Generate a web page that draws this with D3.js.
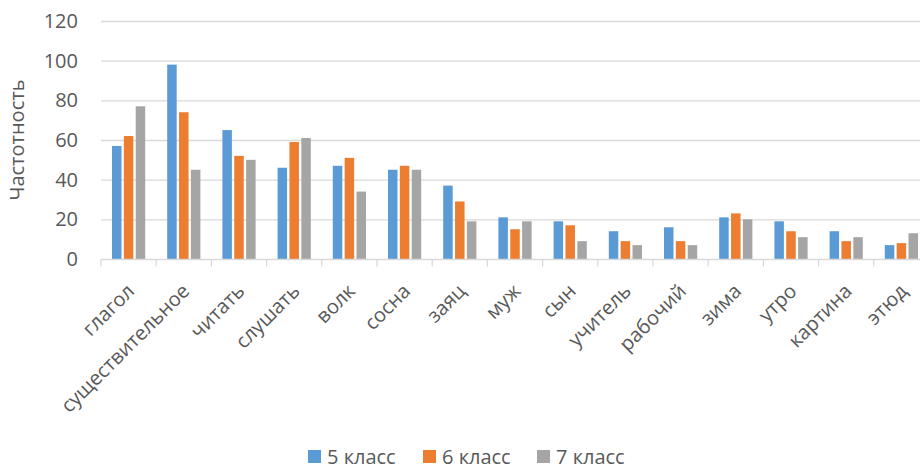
<!DOCTYPE html>
<html>
<head>
    <meta charset="utf-8" />
    <title>Частотность</title>
    <script src="https://cdn.jsdelivr.net/npm/d3@7"></script>
    <style>
        body { margin: 0; background: #fff; }
        text { font-family: "Open Sans", sans-serif; fill: #595959; }
    </style>
</head>
<body>
    <script>
        var categories = ["глагол", "существительное", "читать", "слушать", "волк", "сосна", "заяц",
            "муж", "сын", "учитель", "рабочий", "зима", "утро", "картина", "этюд"];
        var seriesNames = ["5 класс", "6 класс", "7 класс"];
        var class5 = [57, 98, 65, 46, 47, 45, 37, 21, 19, 14, 16, 21, 19, 14, 7];
        var class6 = [62, 74, 52, 59, 51, 47, 29, 15, 17, 9, 9, 23, 14, 9, 8];
        var class7 = [77, 45, 50, 61, 34, 45, 19, 19, 9, 7, 7, 20, 11, 11, 13];
        var yTicks = [0, 20, 40, 60, 80, 100, 120];

        var seriesValues = [class5, class6, class7];
        var colors = ["#5B9BD5", "#ED7D31", "#A5A5A5"];

        var width = 920, height = 469;
        var plotLeft = 101, plotRight = 929, plotTop = 21, plotBottom = 259;
        var fontSize = "20px";

        var svg = d3.select("body").append("svg")
            .attr("width", width)
            .attr("height", height);

        var x = d3.scaleBand().domain(categories).range([plotLeft, plotRight]);
        var xInner = d3.scaleBand().domain(d3.range(3))
            .range([11, x.bandwidth() - 11]).paddingInner(0.2);
        var y = d3.scaleLinear().domain([0, 120]).range([plotBottom, plotTop]);

        // gridlines
        svg.append("g").selectAll("line")
            .data(yTicks.filter(function (d) { return d > 0; }))
            .enter().append("line")
            .attr("x1", plotLeft).attr("x2", width)
            .attr("y1", function (d) { return y(d) + 0.5; })
            .attr("y2", function (d) { return y(d) + 0.5; })
            .attr("stroke", "#D9D9D9").attr("stroke-width", 1.3);

        // bars
        var groups = svg.append("g").selectAll("g")
            .data(categories).enter().append("g")
            .attr("transform", function (d) { return "translate(" + x(d) + ",0)"; });

        groups.selectAll("rect")
            .data(function (d, i) {
                return seriesValues.map(function (s, k) { return { k: k, v: s[i] }; });
            })
            .enter().append("rect")
            .attr("x", function (d) { return xInner(d.k); })
            .attr("width", xInner.bandwidth())
            .attr("y", function (d) { return y(d.v); })
            .attr("height", function (d) { return y(0) - y(d.v); })
            .attr("fill", function (d) { return colors[d.k]; });

        // x axis
        var xAxis = svg.append("g")
            .attr("transform", "translate(0," + (plotBottom + 0.5) + ")");
        xAxis.append("line")
            .attr("x1", plotLeft).attr("x2", width)
            .attr("stroke", "#D9D9D9").attr("stroke-width", 1.3);
        xAxis.selectAll(".tick")
            .data(categories.concat(["_end"])).enter().append("line")
            .attr("x1", function (d, i) { return plotLeft + i * x.step(); })
            .attr("x2", function (d, i) { return plotLeft + i * x.step(); })
            .attr("y1", 0).attr("y2", 7)
            .attr("stroke", "#D9D9D9").attr("stroke-width", 1.3);

        xAxis.selectAll(".lbl")
            .data(categories).enter().append("text")
            .attr("class", "lbl")
            .attr("transform", function (d) {
                return "translate(" + (x(d) + x.bandwidth() / 2 - 3) + ",23) rotate(-45)";
            })
            .attr("text-anchor", "end")
            .attr("dy", "0.7em")
            .style("font-size", fontSize)
            .text(function (d) { return d; });

        // y axis labels
        svg.append("g").selectAll("text")
            .data(yTicks).enter().append("text")
            .attr("x", 78)
            .attr("y", function (d) { return y(d); })
            .attr("dy", "0.35em")
            .attr("text-anchor", "end")
            .style("font-size", fontSize)
            .text(function (d) { return d; });

        svg.append("text")
            .attr("transform", "translate(24," + ((plotTop + plotBottom) / 2) + ") rotate(-90)")
            .attr("text-anchor", "middle")
            .style("font-size", fontSize)
            .text("Частотность");

        // legend
        var legendX = [308, 423, 537];
        var legend = svg.append("g").selectAll("g")
            .data(seriesNames).enter().append("g")
            .attr("transform", function (d, i) { return "translate(" + legendX[i] + ",450)"; });
        legend.append("rect")
            .attr("width", 13).attr("height", 13)
            .attr("fill", function (d, i) { return colors[i]; });
        legend.append("text")
            .attr("x", 19).attr("y", 14)
            .style("font-size", fontSize)
            .text(function (d) { return d; });
    </script>
</body>
</html>
